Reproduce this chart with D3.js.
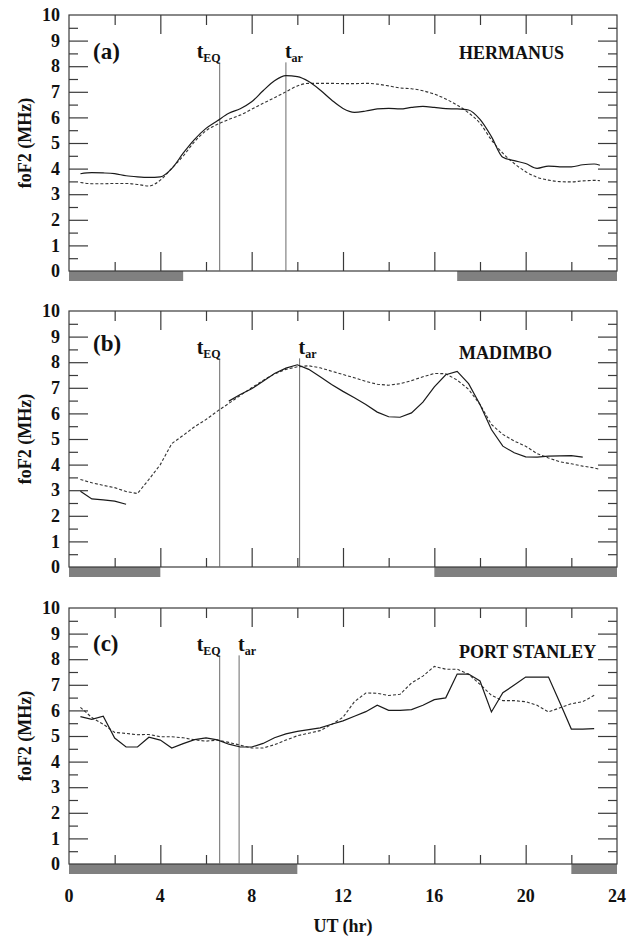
<!DOCTYPE html>
<html lang="en">

<head>
    <meta charset="utf-8">
    <title>foF2 at three stations</title>
    <script type="text/javascript" src="https://d3js.org/d3.v7.min.js"></script>
    <style>
        body { margin: 0; background: #fff; }
        text { font-family: "Liberation Serif", "Times New Roman", serif; font-weight: bold; fill: #111; }
    </style>
</head>

<body>
    <script type="text/javascript">
        // UT hours of the readings (half-hour steps)
        var hours = [0.5, 1, 1.5, 2, 2.5, 3, 3.5, 4, 4.5, 5, 5.5, 6, 6.5, 7, 7.5, 8, 8.5, 9, 9.5, 10,
            10.5, 11, 11.5, 12, 12.5, 13, 13.5, 14, 14.5, 15, 15.5, 16, 16.5, 17, 17.5, 18, 18.5, 19, 19.5, 20,
            20.5, 21, 21.5, 22, 22.5, 23];
        var hoursLong = hours.concat([23.25]);

        // (a) Hermanus
        var hermanusObs = [3.80, 3.84, 3.83, 3.80, 3.72, 3.68, 3.66, 3.68, 4.00, 4.60,
            5.14, 5.57, 5.87, 6.16, 6.34, 6.61, 7.04, 7.43, 7.63, 7.59,
            7.40, 7.07, 6.68, 6.35, 6.20, 6.25, 6.33, 6.35, 6.33, 6.39,
            6.43, 6.39, 6.34, 6.33, 6.29, 5.92, 5.25, 4.44, 4.31, 4.20,
            4.01, 4.10, 4.07, 4.07, 4.15, 4.18, 4.13];
        var hermanusQuiet = [3.46, 3.41, 3.41, 3.42, 3.42, 3.38, 3.32, 3.55, 4.01, 4.49,
            5.05, 5.48, 5.73, 5.92, 6.09, 6.32, 6.55, 6.77, 7.00, 7.23,
            7.33, 7.33, 7.33, 7.32, 7.32, 7.33, 7.30, 7.23, 7.15, 7.12,
            7.04, 6.91, 6.72, 6.48, 6.18, 5.77, 5.12, 4.60, 4.20, 3.88,
            3.66, 3.55, 3.49, 3.48, 3.52, 3.54, 3.53];

        // (b) Madimbo (gaps = no data)
        var madimboObs = [2.96, 2.66, 2.62, 2.57, 2.45, null, null, null, null, null,
            null, null, null, 6.48, 6.74, 6.96, 7.26, 7.56, 7.77, 7.90,
            7.72, 7.43, 7.13, 6.86, 6.61, 6.35, 6.05, 5.87, 5.85, 6.02,
            6.44, 7.04, 7.51, 7.64, 7.16, 6.35, 5.37, 4.72, 4.46, 4.30,
            4.29, 4.33, 4.34, 4.35, 4.29, null, null];
        var madimboQuiet = [3.42, 3.29, 3.19, 3.10, 2.95, 2.87, 3.42, 4.00, 4.82, 5.14,
            5.48, 5.76, 6.09, 6.39, 6.70, 7.00, 7.29, 7.54, 7.72, 7.82,
            7.86, 7.78, 7.65, 7.52, 7.39, 7.25, 7.14, 7.10, 7.16, 7.28,
            7.43, 7.56, 7.55, 7.30, 6.94, 6.35, 5.57, 5.18, 4.92, 4.72,
            4.43, 4.26, 4.11, 4.03, 3.94, 3.87, 3.81];

        // (c) Port Stanley
        var stanleyObs = [5.76, 5.65, 5.77, 4.92, 4.57, 4.57, 4.95, 4.84, 4.53, 4.70,
            4.86, 4.93, 4.85, 4.68, 4.57, 4.57, 4.71, 4.93, 5.08, 5.18,
            5.25, 5.32, 5.46, 5.59, 5.77, 5.95, 6.20, 6.00, 6.00, 6.03,
            6.20, 6.42, 6.49, 7.42, 7.42, 7.15, 5.94, 6.69, 6.99, 7.30,
            7.30, 7.30, 6.30, 5.27, 5.27, 5.29];
        var stanleyQuiet = [6.12, 5.72, 5.46, 5.14, 5.10, 5.05, 5.06, 4.97, 4.97, 4.93,
            4.85, 4.80, 4.84, 4.75, 4.64, 4.53, 4.53, 4.66, 4.84, 5.01,
            5.11, 5.21, 5.45, 5.73, 6.34, 6.68, 6.67, 6.58, 6.63, 7.07,
            7.34, 7.72, 7.61, 7.61, 7.41, 7.02, 6.59, 6.38, 6.38, 6.34,
            6.20, 5.94, 6.10, 6.26, 6.34, 6.59];

        // night-time bars (UT hr) and event times
        var nightA = [[0, 5], [17, 24]];
        var nightB = [[0, 4], [16, 24]];
        var nightC = [[0, 10], [22, 24]];
        var tEQ = [6.6, 6.6, 6.6];
        var tAR = [9.5, 10.1, 7.45];

        var xTicks = [0, 4, 8, 12, 16, 20, 24];
        var yTicks = [0, 1, 2, 3, 4, 5, 6, 7, 8, 9, 10];

        var panels = [
            { tag: "(a)", station: "HERMANUS", hx: hoursLong, obs: hermanusObs, hq: hoursLong, quiet: hermanusQuiet,
              night: nightA, teq: tEQ[0], tar: tAR[0], top: 15, curve: d3.curveMonotoneX, tagY: 59, stY: 59 },
            { tag: "(b)", station: "MADIMBO", hx: hoursLong, obs: madimboObs, hq: hoursLong, quiet: madimboQuiet,
              night: nightB, teq: tEQ[1], tar: tAR[1], top: 311, curve: d3.curveLinear, tagY: 351, stY: 359 },
            { tag: "(c)", station: "PORT STANLEY", hx: hours, obs: stanleyObs, hq: hours, quiet: stanleyQuiet,
              night: nightC, teq: tEQ[2], tar: tAR[2], top: 608, curve: d3.curveLinear, tagY: 651, stY: 658 }
        ];

        var width = 640, height = 937;
        var left = 69, right = 617, panelH = 256;
        var frameColor = "#3a3a3a";

        var svg = d3.select("body")
            .append("svg")
            .attr("width", width)
            .attr("height", height);

        var x = d3.scaleLinear().domain([0, 24]).range([left, right]);

        panels.forEach(function (p, pi) {
            var y = d3.scaleLinear().domain([0, 10]).range([p.top + panelH, p.top]);
            var g = svg.append("g");

            // night bars under the zero line
            g.selectAll("rect.night")
                .data(p.night)
                .enter()
                .append("rect")
                .attr("x", function (d) { return x(d[0]); })
                .attr("width", function (d) { return x(d[1]) - x(d[0]); })
                .attr("y", y(0))
                .attr("height", 10)
                .attr("fill", "#808080");

            // frame
            g.append("rect")
                .attr("x", left)
                .attr("y", p.top)
                .attr("width", right - left)
                .attr("height", panelH)
                .attr("fill", "none")
                .attr("stroke", frameColor)
                .attr("stroke-width", 1.2);

            // inward ticks: left, right, top, bottom
            var yAxisL = d3.axisRight(y).tickValues(d3.range(0.5, 10, 0.5))
                .tickSize(0).tickFormat("");
            g.append("g").attr("transform", "translate(" + left + ",0)").call(yAxisL)
                .selectAll(".tick line")
                .attr("x2", function (d) { return d % 1 === 0 ? 19 : 9; })
                .attr("stroke", frameColor).attr("stroke-width", 1.2);
            g.append("g").attr("transform", "translate(" + right + ",0)").call(yAxisL)
                .selectAll(".tick line")
                .attr("x2", function (d) { return d % 1 === 0 ? -19 : -9; })
                .attr("stroke", frameColor).attr("stroke-width", 1.2);

            var xAxisT = d3.axisBottom(x).tickValues(d3.range(2, 24, 2))
                .tickSize(0).tickFormat("");
            g.append("g").attr("transform", "translate(0," + p.top + ")").call(xAxisT)
                .selectAll(".tick line")
                .attr("y2", function (d) { return d % 4 === 0 ? 19 : 10; })
                .attr("stroke", frameColor).attr("stroke-width", 1.2);
            g.append("g").attr("transform", "translate(0," + y(0) + ")").call(xAxisT)
                .selectAll(".tick line")
                .attr("y2", function (d) { return d % 4 === 0 ? -19 : -9; })
                .attr("stroke", frameColor).attr("stroke-width", 1.2);
            g.selectAll(".domain").remove();

            // y tick labels
            g.selectAll("text.ylab")
                .data(yTicks)
                .enter()
                .append("text")
                .attr("x", 60)
                .attr("y", function (d) { return y(d); })
                .attr("dy", "0.34em")
                .attr("text-anchor", "end")
                .attr("font-size", 18)
                .text(function (d) { return d; });

            // y title
            g.append("text")
                .attr("transform", "translate(31," + (p.top + panelH / 2) + ") rotate(-90)")
                .attr("text-anchor", "middle")
                .attr("font-size", 18)
                .text("foF2 (MHz)");

            // event lines
            [p.teq, p.tar].forEach(function (t) {
                g.append("line")
                    .attr("x1", x(t)).attr("x2", x(t))
                    .attr("y1", y(0)).attr("y2", y(8.15))
                    .attr("stroke", "#6a6a6a")
                    .attr("stroke-width", 1);
            });

            var teqLab = g.append("text")
                .attr("x", x(p.teq) + 1)
                .attr("y", y(8.15) - 4)
                .attr("text-anchor", "end")
                .attr("font-size", 20);
            teqLab.append("tspan").text("t");
            teqLab.append("tspan").attr("dy", 4).attr("font-size", 12).text("EQ");

            var tarLab = g.append("text")
                .attr("x", x(p.tar) - 1)
                .attr("y", y(8.15) - 4)
                .attr("text-anchor", "start")
                .attr("font-size", 20);
            tarLab.append("tspan").text("t");
            tarLab.append("tspan").attr("dy", 4).attr("font-size", 12).text("ar");

            // panel tag and station name
            g.append("text")
                .attr("x", 93)
                .attr("y", p.tagY)
                .attr("font-size", 23)
                .text(p.tag);

            g.append("text")
                .attr("x", 459)
                .attr("y", p.stY)
                .attr("font-size", 18)
                .text(p.station);

            // curves
            var line = d3.line()
                .defined(function (d) { return d[1] !== null; })
                .x(function (d) { return x(d[0]); })
                .y(function (d) { return y(d[1]); })
                .curve(p.curve);

            g.append("path")
                .attr("d", line(p.hq.map(function (h, i) { return [h, p.quiet[i]]; })))
                .attr("fill", "none")
                .attr("stroke", "#333")
                .attr("stroke-width", 1.1)
                .attr("stroke-dasharray", "3,2");

            g.append("path")
                .attr("d", line(p.hx.map(function (h, i) { return [h, p.obs[i]]; })))
                .attr("fill", "none")
                .attr("stroke", "#1a1a1a")
                .attr("stroke-width", 1.2);

            // x tick labels only on the bottom panel
            if (pi === panels.length - 1) {
                g.selectAll("text.xlab")
                    .data(xTicks)
                    .enter()
                    .append("text")
                    .attr("x", function (d) { return x(d); })
                    .attr("y", 902)
                    .attr("text-anchor", "middle")
                    .attr("font-size", 18)
                    .text(function (d) { return d; });

                g.append("text")
                    .attr("x", (left + right) / 2)
                    .attr("y", 932)
                    .attr("text-anchor", "middle")
                    .attr("font-size", 18)
                    .text("UT (hr)");
            }
        });
    </script>
</body>

</html>
